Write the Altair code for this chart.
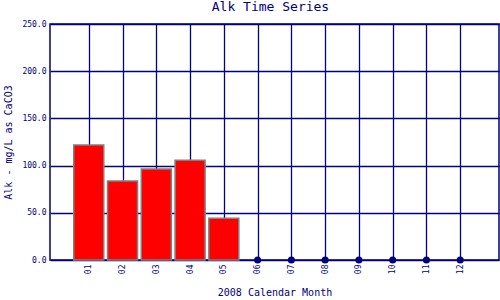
import altair as alt
import pandas as pd

months = ["01", "02", "03", "04", "05", "06", "07", "08", "09", "10", "11", "12"]
alk = [121.8, 83.7, 96.4, 105.6, 44.2, None, None, None, None, None, None, None]
y_ticks = [0, 50, 100, 150, 200, 250]

NAVY = "#000080"
FONT = "DejaVu Sans Mono"

df = pd.DataFrame({"month": months, "m": [int(x) for x in months], "alk": alk})
bars_df = df[df["alk"].notna()].copy()
miss_df = df[df["alk"].isna()].copy()
miss_df["alk"] = 0.0

x_enc = alt.X(
    "m:Q",
    scale=alt.Scale(domain=[0, 13], nice=False, zero=False),
    axis=alt.Axis(
        title="2008 Calendar Month",
        values=[int(x) for x in months],
        labelExpr="datum.value < 10 ? '0' + datum.value : '' + datum.value",
        labelAngle=270,
        labelFontSize=8,
        labelPadding=4,
        titlePadding=14,
        titleFontSize=10,
        titleFontWeight="normal",
        ticks=False,
        domain=False,
        grid=True,
    ),
)
y_scale = alt.Scale(domain=[0, 250], nice=False)
y_axis = alt.Axis(
    title="Alk - mg/L as CaCO3",
    values=y_ticks,
    format=".1f",
    labelFontSize=8,
    labelPadding=4,
    titlePadding=8,
    titleFontSize=10,
    titleFontWeight="normal",
    ticks=False,
    domain=False,
    grid=True,
)

bars = alt.Chart(bars_df).mark_bar(
    size=30, color="#ff0000", stroke="#808080", strokeWidth=1.5
).encode(x=x_enc, y=alt.Y("alk:Q", scale=y_scale, axis=y_axis))

points = alt.Chart(miss_df).mark_point(
    filled=True, size=50, color=NAVY, opacity=1, shape="circle"
).encode(x=alt.X("m:Q"), y=alt.Y("alk:Q"))

chart = (
    alt.layer(bars, points)
    .properties(
        width=449,
        height=236,
        background="white",
        title=alt.TitleParams(
            "Alk Time Series", fontSize=13, fontWeight="normal", font=FONT,
            color=NAVY, offset=6, anchor="middle", dx=-4
        ),
        autosize=alt.AutoSizeParams(type="none"),
        padding={"left": 50, "top": 24, "right": 1, "bottom": 40},
    )
    .configure_view(stroke=NAVY, strokeWidth=1.5)
    .configure_axis(
        gridColor=NAVY, gridWidth=1.3, gridOpacity=1,
        labelColor=NAVY, titleColor=NAVY, labelFont=FONT, titleFont=FONT,
    )
)

chart.save("out.html", embed_options={"renderer": "svg", "actions": False})
